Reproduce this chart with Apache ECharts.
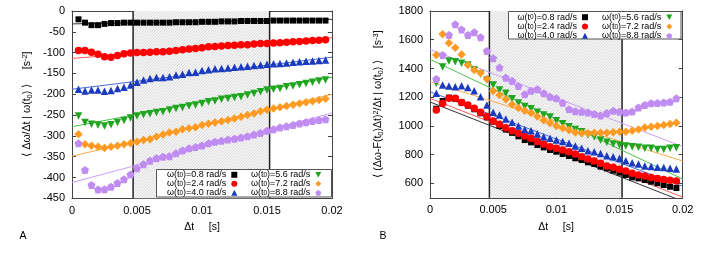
<!DOCTYPE html>
<html><head><meta charset="utf-8">
<script src="https://cdn.jsdelivr.net/npm/echarts@6/dist/echarts.min.js"></script>
<style>html,body{margin:0;padding:0;background:#fff}#c{width:720px;height:258px}</style>
</head><body><div id="c"></div>
<script>
// ---------- data ----------
const dt = [0.0005,0.001,0.0015,0.002,0.0025,0.003,0.0035,0.004,0.0045,0.005,
            0.0055,0.006,0.0065,0.007,0.0075,0.008,0.0085,0.009,0.0095,0.01,
            0.0105,0.011,0.0115,0.012,0.0125,0.013,0.0135,0.014,0.0145,0.015,
            0.0155,0.016,0.0165,0.017,0.0175,0.018,0.0185,0.019,0.0195];
const omegaLabels = ['0.8','2.4','4.0','5.6','7.2','8.8'];
const xTicks = [0,0.005,0.01,0.015,0.02];
const yRangeA = [-450,0];
const yRangeB = [500,1800];
const yTicksB = [600,800,1000,1200,1400,1600,1800];
const shadeRange = [0.0047,0.0152];
const fitX = [0,0.02];

// panel A: <Δω/Δt | ω(t0)>
const A_w08 = [-20,-28,-34,-34,-31,-29,-29,-28,-28,-28,-28,-28,-28,-28,-28,-27,-27,-27,-27,-26,-26,-26,-25,-25,-25,-24,-24,-24,-24,-24,-23,-23,-23,-23,-23,-23,-23,-23,-23];
const A_w24 = [-95,-95,-99,-104,-110,-111,-107,-103,-101,-100,-100,-99,-98,-98,-97,-95,-93,-91,-90,-88,-86,-85,-84,-83,-82,-81,-81,-79,-78,-78,-77,-76,-75,-74,-73,-72,-71,-70,-69];
const A_w40 = [-188,-192,-190,-190,-193,-191,-186,-183,-178,-171,-166,-162,-160,-160,-158,-154,-152,-148,-147,-143,-141,-139,-138,-137,-135,-134,-133,-131,-130,-128,-127,-126,-125,-123,-122,-121,-120,-119,-118];
const A_w56 = [-252,-268,-272,-274,-276,-273,-268,-263,-257,-252,-249,-247,-244,-242,-238,-234,-232,-228,-226,-222,-218,-216,-212,-210,-208,-206,-202,-198,-194,-190,-188,-186,-182,-180,-177,-174,-171,-168,-166];
const A_w72 = [-296,-320,-324,-326,-329,-326,-324,-320,-318,-314,-310,-308,-302,-297,-292,-290,-284,-282,-279,-274,-271,-268,-265,-262,-258,-254,-250,-246,-241,-237,-234,-231,-228,-225,-222,-219,-217,-214,-211];
const A_w88 = [-318,-382,-418,-429,-428,-422,-413,-404,-393,-378,-368,-360,-354,-350,-349,-342,-335,-330,-327,-323,-318,-314,-312,-309,-307,-304,-301,-297,-293,-288,-284,-280,-277,-274,-270,-267,-264,-262,-260];
const A_fit08 = [-31,-20];
const A_fit24 = [-114,-64];
const A_fit40 = [-188,-111];
const A_fit56 = [-278,-159];
const A_fit72 = [-349,-200];
const A_fit88 = [-412,-245];

// panel B: <(Δω-F(t0)Δt)^2/Δt | ω(t0)>
const B_w08 = [1120,1174,1197,1188,1164,1141,1116,1088,1060,1030,1000,975,952,928,902,886,867,851,833,821,805,791,775,763,747,735,717,705,689,675,659,642,635,624,612,601,589,577,568];
const B_w24 = [1111,1157,1192,1192,1164,1146,1123,1095,1065,1034,1011,988,967,949,930,914,891,874,856,844,833,821,805,786,770,756,740,721,712,698,686,670,659,652,642,635,628,622,617];
const B_w40 = [1227,1285,1278,1273,1280,1268,1245,1204,1146,1095,1076,1048,1025,1000,976,967,944,925,914,902,891,879,860,844,828,821,809,793,786,775,758,744,735,721,717,712,710,705,700];
const B_w56 = [1297,1410,1452,1447,1436,1424,1389,1359,1320,1285,1250,1227,1190,1160,1135,1120,1095,1076,1062,1037,1015,995,976,960,937,925,902,886,874,867,860,856,851,844,844,837,837,844,849];
const B_w72 = [1494,1638,1578,1545,1498,1424,1389,1368,1326,1244,1215,1186,1150,1125,1105,1090,1065,1040,1020,1000,985,972,955,950,949,953,953,953,956,960,960,967,976,990,995,1000,1007,1014,1022];
const B_w88 = [1327,1494,1633,1707,1672,1633,1652,1617,1522,1471,1406,1336,1313,1278,1220,1245,1255,1227,1204,1192,1162,1116,1103,1099,1093,1083,1073,1090,1105,1099,1093,1101,1128,1146,1158,1160,1163,1169,1192];
const B_fit08 = [1167,476];
const B_fit24 = [1192,505];
const B_fit40 = [1238,580];
const B_fit56 = [1464,631];
const B_fit72 = [1308,756];
const B_fit88 = [1533,856];

// ---------- styles ----------
const FONT = 'Liberation Sans, Arial, sans-serif';
const colors = ['#000000','#ff0000','#1a3bc0','#1fa51f','#ff9a22','#c08cf2'];
const fitColors = ['#333333','#ff5a5a','#4a6ad6','#4cc04c','#ffaa4a','#cc9ff7'];
const symbols = ['rect','circle','triangle','path://M0,0L10,0L5,9Z','diamond','path://M5,0L10,3.6L8.1,9.5L1.9,9.5L0,3.6Z'];
const symbolSizes = [6,7.5,7.5,7.5,8.5,8];
const names = omegaLabels.map(w => 'ω(t0)=' + w + ' rad/s');

const pc = document.createElement('canvas'); pc.width = 3; pc.height = 3;
const g = pc.getContext('2d');
g.fillStyle = '#f4f4f4'; g.fillRect(0,0,3,3);
g.fillStyle = '#dcdcdc';
g.fillRect(0,2,1,1); g.fillRect(1,1,1,1); g.fillRect(2,0,1,1);

const AX = '#444';
function xAx(gi, pos) {
  return {type:'value', gridIndex:gi, min:xTicks[0], max:xTicks[xTicks.length-1], interval:0.005, position:pos,
    axisLine:{show:true, onZero:false, lineStyle:{color:AX, width:1}},
    axisTick:{show:true, inside:true, length:4, lineStyle:{color:AX}},
    axisLabel:{show:pos==='bottom', color:'#000', fontSize:11, margin:7, fontFamily:FONT},
    splitLine:{show:false}};
}
function yAx(gi, pos, panel) {
  const a = {type:'value', gridIndex:gi, position:pos,
    axisLine:{show:true, onZero:false, lineStyle:{color:AX, width:1}},
    axisTick:{show:true, inside:true, length:4, lineStyle:{color:AX}},
    axisLabel:{show:pos==='left', color:'#000', fontSize:11, margin:7, fontFamily:FONT,
      formatter: v => String(v)},
    splitLine:{show:false}};
  if (panel === 'A') { a.min = yRangeA[0]; a.max = yRangeA[1]; a.interval = 50; }
  else { a.min = yRangeB[0]; a.max = yRangeB[1]; a.interval = 100;
    a.axisLabel.customValues = yTicksB; a.axisTick.customValues = yTicksB; }
  return a;
}

const dataA = [A_w08,A_w24,A_w40,A_w56,A_w72,A_w88];
const fitA = [A_fit08,A_fit24,A_fit40,A_fit56,A_fit72,A_fit88];
const dataB = [B_w08,B_w24,B_w40,B_w56,B_w72,B_w88];
const fitB = [B_fit08,B_fit24,B_fit40,B_fit56,B_fit72,B_fit88];

const series = [];
function panel(gi, data, fits, yr) {
  const xi = gi*2, yi = gi*2;
  series.push({type:'line', name:'shade'+gi, xAxisIndex:xi, yAxisIndex:yi, data:[], z:1, silent:true,
    markArea:{silent:true, itemStyle:{color:{image:pc, repeat:'repeat'}},
      data:[[{xAxis:shadeRange[0]},{xAxis:shadeRange[1]}]]}});
  shadeRange.forEach((xv,k) => series.push({type:'line', name:'vl'+gi+'_'+k, xAxisIndex:xi, yAxisIndex:yi,
    data:yr.map(y => [xv, y]), showSymbol:false, symbol:'none', z:2, silent:true, clip:false,
    lineStyle:{color:'#222', width:1.5}}));
  fits.forEach((f,i) => series.push({type:'line', name:'fit'+gi+'_'+i, xAxisIndex:xi, yAxisIndex:yi,
    data:fitX.map((x,j)=>[x,f[j]]), showSymbol:false, symbol:'none', z:2, silent:true,
    lineStyle:{color:fitColors[i], width:1}}));
  data.forEach((d,i) => series.push({type:'scatter', name:names[i], xAxisIndex:xi, yAxisIndex:yi,
    data:dt.map((x,j)=>[x,d[j]]), symbol:symbols[i], symbolSize:symbolSizes[i], z:3,
    itemStyle:{color:colors[i], opacity:1}}));
}
panel(0, dataA, fitA, yRangeA);
panel(1, dataB, fitB, yRangeB);

const legendBase = {orient:'vertical', align:'right', padding:0, itemGap:0, itemWidth:6, itemHeight:6,
  selectedMode:false, z:5,
  formatter: n => '{a|ω(t}{s|0}{a|)=' + n.split('=')[1] + '}',
  textStyle:{color:'#000', fontSize:9, fontFamily:FONT, lineHeight:8,
    rich:{a:{fontSize:9, lineHeight:8, fontFamily:FONT, color:'#000'},
          s:{fontSize:6.5, lineHeight:8, fontFamily:FONT, color:'#000', verticalAlign:'bottom'}}}};
function leg(d, right, top, gap) { return Object.assign({}, legendBase, {data:d, right:right, top:top, itemGap:gap}); }

const rich = {
  n:{fontSize:10.5, fontFamily:FONT, fill:'#000', lineHeight:13},
  sub:{fontSize:7.5, fontFamily:FONT, fill:'#000', lineHeight:8, verticalAlign:'bottom'},
  sup:{fontSize:7.5, fontFamily:FONT, fill:'#000', lineHeight:8, verticalAlign:'top'}
};
function txt(x, y, text, rot, size) {
  return {type:'text', x:x, y:y, rotation:rot||0, z:6, silent:true,
    style:{text:text, rich:rich, fontSize:size||10.5, fontFamily:FONT, fill:'#000',
      align:'center', verticalAlign:'middle', textAlign:'center', textVerticalAlign:'middle'}};
}

const option = {
  animation:false,
  backgroundColor:'#fff',
  grid:[{left:72, top:11, width:260, height:187.3},
        {left:430, top:11, width:252.7, height:186.8}],
  xAxis:[xAx(0,'bottom'), xAx(0,'top'), xAx(1,'bottom'), xAx(1,'top')],
  yAxis:[yAx(0,'left','A'), yAx(0,'right','A'), yAx(1,'left','B'), yAx(1,'right','B')],
  legend:[leg(names.slice(0,3), 482.7, 170.3, 0), leg(names.slice(3), 398.7, 170.3, 0),
          leg(names.slice(0,3), 132, 12.7, 0.3), leg(names.slice(3), 47.7, 12.7, 0.3)],
  graphic:{elements:[
    {type:'rect', z:4, silent:true, shape:{x:156.5, y:169.5, width:175, height:27.5}, style:{fill:'#fff', stroke:'#555', lineWidth:1}},
    {type:'rect', z:4, silent:true, shape:{x:508.5, y:11.5, width:172.5, height:27.5}, style:{fill:'#fff', stroke:'#555', lineWidth:1}},
    txt(27, 104, '{n|⟨ Δω/Δt | ω(t}{sub|0}{n|) ⟩     [s}{sup|-2}{n|]}', Math.PI/2),
    txt(378, 104, '{n|⟨ (Δω-F(t}{sub|0}{n|)Δt)}{sup|2}{n|/Δt | ω(t}{sub|0}{n|) ⟩    [s}{sup|-3}{n|]}', Math.PI/2),
    txt(202, 227, '{n|Δt     [s]}', 0),
    txt(556, 227, '{n|Δt     [s]}', 0),
    txt(23, 236, '{n|A}', 0),
    txt(383, 236, '{n|B}', 0)
  ]},
  series:series
};
const chart = echarts.init(document.getElementById('c'), null, {renderer:'canvas'});
chart.setOption(option);
</script></body></html>
